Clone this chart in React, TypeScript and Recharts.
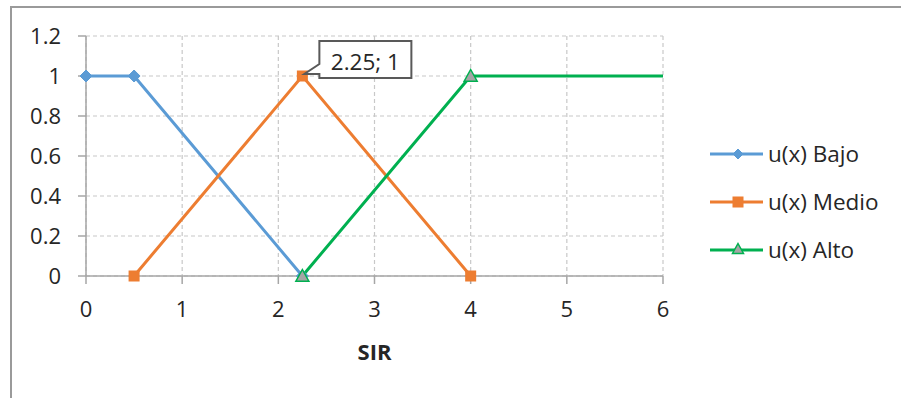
import React from "react";
import {
  LineChart,
  Line,
  XAxis,
  YAxis,
  CartesianGrid,
} from "recharts";

// membership functions for SIR
const bajo = [
  { x: 0, y: 1 },
  { x: 0.5, y: 1 },
  { x: 2.25, y: 0 },
];
const medio = [
  { x: 0.5, y: 0 },
  { x: 2.25, y: 1 },
  { x: 4, y: 0 },
];
const alto = [
  { x: 2.25, y: 0 },
  { x: 4, y: 1 },
  { x: 6, y: 1 },
];

const xTicks = [0, 1, 2, 3, 4, 5, 6];
const yTicks = [0, 0.2, 0.4, 0.6, 0.8, 1, 1.2];

const series = [
  { name: "u(x) Bajo", color: "#5B9BD5", shape: "diamond" },
  { name: "u(x) Medio", color: "#ED7D31", shape: "square" },
  { name: "u(x) Alto", color: "#00B050", shape: "triangle" },
];

const FONT = "'Open Sans', sans-serif";
const TEXT = "#262626";
const AXIS = "#a6a6a6";

function Marker({ shape, cx, cy, s, color }: any) {
  if (shape === "diamond") {
    return (
      <polygon
        points={`${cx},${cy - s} ${cx + s},${cy} ${cx},${cy + s} ${cx - s},${cy}`}
        fill={color}
        stroke={color}
        strokeWidth={1}
      />
    );
  }
  if (shape === "square") {
    return (
      <rect x={cx - s} y={cy - s} width={s * 2} height={s * 2} fill={color} />
    );
  }
  return (
    <polygon
      points={`${cx},${cy - s} ${cx + s},${cy + s * 0.8} ${cx - s},${cy + s * 0.8}`}
      fill="#A5A5A5"
      stroke={color}
      strokeWidth={1.5}
    />
  );
}

const bajoDot = (p: any) => (
  <Marker key={`b${p.index}`} shape="diamond" cx={p.cx} cy={p.cy} s={6} color={series[0].color} />
);
const medioDot = (p: any) => (
  <Marker key={`m${p.index}`} shape="square" cx={p.cx} cy={p.cy} s={5.5} color={series[1].color} />
);
// the flat tail at x = 6 has no marker
const altoDot = (p: any) =>
  p.index === alto.length - 1 ? (
    <g key={`a${p.index}`} />
  ) : (
    <Marker key={`a${p.index}`} shape="triangle" cx={p.cx} cy={p.cy} s={6.5} color={series[2].color} />
  );

// callout on the peak of the "Medio" set
const peakLabel = (p: any) => {
  if (p.index !== 1) return <g key="none" />;
  const cx = p.x;
  const cy = p.y;
  const l = cx + 17;
  const t = cy - 35;
  const r = cx + 109;
  const b = cy + 2;
  return (
    <g key="callout">
      <path
        d={`M${l},${t} H${r} V${b} H${l} V${cy - 2} L${cx + 2},${cy - 2} L${l},${cy - 12} Z`}
        fill="#fff"
        stroke="#595959"
        strokeWidth={2}
      />
      <text
        x={(l + r) / 2}
        y={cy - 6}
        textAnchor="middle"
        fontFamily={FONT}
        fontSize={22.5}
        fill={TEXT}
      >
        {`${medio[1].x}; ${p.value}`}
      </text>
    </g>
  );
};

function LegendBox() {
  return (
    <svg
      width={195}
      height={140}
      style={{ position: "absolute", left: 700, top: 130 }}
    >
      {series.map((s, i) => {
        const y = 24 + i * 48;
        return (
          <g key={s.name}>
            <line x1={10} x2={63} y1={y} y2={y} stroke={s.color} strokeWidth={3} />
            <Marker
              shape={s.shape}
              cx={38}
              cy={s.shape === "triangle" ? y - 1 : y}
              s={s.shape === "diamond" ? 5 : 5.5}
              color={s.color}
            />
            <text
              x={68}
              y={y + 8}
              fontFamily={FONT}
              fontSize={22.5}
              fill={TEXT}
            >
              {s.name}
            </text>
          </g>
        );
      })}
    </svg>
  );
}

export default function App() {
  return (
    <div
      style={{
        position: "absolute",
        left: 0,
        top: 0,
        width: 901,
        height: 398,
        background: "#fff",
        overflow: "hidden",
      }}
    >
      <div
        style={{
          position: "absolute",
          left: 10,
          top: 6,
          width: 900,
          height: 400,
          borderTop: "2px solid #9a9a9a",
          borderLeft: "2px solid #9a9a9a",
        }}
      />
      <LineChart
        width={901}
        height={398}
        margin={{ top: 36, right: 238, bottom: 22, left: 0 }}
        style={{ position: "absolute", left: 0, top: 0 }}
      >
        <CartesianGrid stroke="#c8c8c8" strokeDasharray="4 3" strokeWidth={1.2} />
        <XAxis
          type="number"
          dataKey="x"
          domain={[0, 6]}
          ticks={xTicks}
          interval={0}
          height={100}
          stroke={AXIS}
          strokeWidth={1.5}
          tickSize={8}
          tickMargin={17}
          tick={{ fill: TEXT, fontFamily: FONT, fontSize: 22 }}
          label={(p: any) => (
            <text
              x={p.viewBox.x + p.viewBox.width / 2}
              y={p.viewBox.y + 84}
              textAnchor="middle"
              fontFamily={FONT}
              fontWeight="bold"
              fontSize={22}
              fill={TEXT}
            >
              SIR
            </text>
          )}
        />
        <YAxis
          type="number"
          domain={[0, 1.2]}
          ticks={yTicks}
          interval={0}
          width={86}
          stroke={AXIS}
          strokeWidth={1.5}
          tickSize={8}
          tickMargin={17}
          tick={{ fill: TEXT, fontFamily: FONT, fontSize: 22 }}
        />
        <Line
          data={bajo}
          dataKey="y"
          name={series[0].name}
          stroke={series[0].color}
          strokeWidth={3}
          dot={bajoDot}
          activeDot={false}
          isAnimationActive={false}
        />
        <Line
          data={medio}
          dataKey="y"
          name={series[1].name}
          stroke={series[1].color}
          strokeWidth={3}
          dot={medioDot}
          activeDot={false}
          label={peakLabel}
          isAnimationActive={false}
        />
        <Line
          data={alto}
          dataKey="y"
          name={series[2].name}
          stroke={series[2].color}
          strokeWidth={3}
          dot={altoDot}
          activeDot={false}
          isAnimationActive={false}
        />
      </LineChart>
      <LegendBox />
    </div>
  );
}
